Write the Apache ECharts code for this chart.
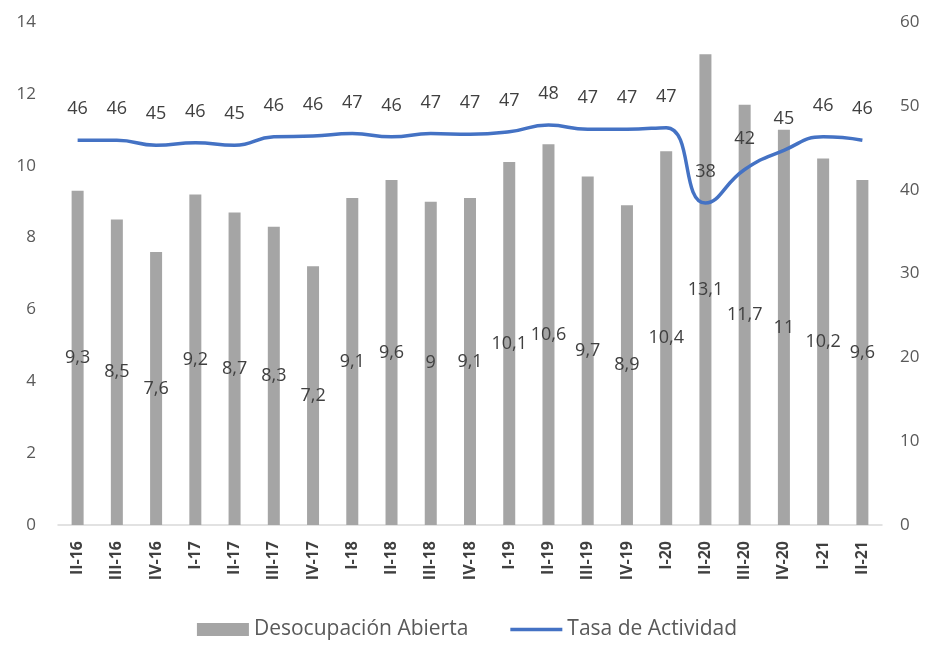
<!DOCTYPE html>
<html>
<head>
<meta charset="utf-8">
<script src="https://cdn.jsdelivr.net/npm/echarts@6/dist/echarts.min.js"></script>
<style>
  html, body { margin: 0; padding: 0; background: #fff; }
  #chart { width: 934px; height: 648px; }
</style>
</head>
<body>
<div id="chart"></div>
<script>
// trimestres
const categories = ['II-16', 'III-16', 'IV-16', 'I-17', 'II-17', 'III-17', 'IV-17', 'I-18', 'II-18', 'III-18', 'IV-18',
  'I-19', 'II-19', 'III-19', 'IV-19', 'I-20', 'II-20', 'III-20', 'IV-20', 'I-21', 'II-21'];
// Desocupación Abierta (eje izquierdo)
const desocupacion = [9.3, 8.5, 7.6, 9.2, 8.7, 8.3, 7.2, 9.1, 9.6, 9, 9.1, 10.1, 10.6, 9.7, 8.9, 10.4, 13.1, 11.7, 11, 10.2, 9.6];
// Tasa de Actividad (eje derecho)
const actividad = [45.9, 45.9, 45.3, 45.6, 45.3, 46.3, 46.4, 46.7, 46.3, 46.7, 46.6, 46.9, 47.7, 47.2, 47.2, 47.4, 38.4, 42.4, 44.7, 46.3, 45.9];
const leftTicks = [0, 14, 2];
const rightTicks = [0, 60, 10];

const font = 'Open Sans';
const chart = echarts.init(document.getElementById('chart'));

chart.setOption({
  animation: false,
  textStyle: { fontFamily: font },
  grid: { top: 22, bottom: 123, left: 58, right: 52 },
  legend: {
    bottom: 3,
    left: 'center',
    itemGap: 42,
    itemWidth: 52,
    itemHeight: 13,
    textStyle: { fontSize: 21, color: '#595959', fontFamily: font },
    data: [
      { name: 'Desocupación Abierta', icon: 'rect' },
      { name: 'Tasa de Actividad', icon: 'path://M0,0 L52,0 L52,3.5 L0,3.5 Z' }
    ]
  },
  xAxis: {
    type: 'category',
    data: categories,
    axisLine: { lineStyle: { color: '#d9d9d9', width: 1.5 } },
    axisTick: { show: false },
    axisLabel: {
      rotate: 90,
      interval: 0,
      margin: 16,
      fontSize: 16,
      fontWeight: 'bold',
      color: '#404040'
    }
  },
  yAxis: [
    {
      type: 'value',
      min: leftTicks[0],
      max: leftTicks[1],
      interval: leftTicks[2],
      splitLine: { show: false },
      axisLine: { show: false },
      axisTick: { show: false },
      axisLabel: { fontSize: 17, color: '#595959', margin: 22 }
    },
    {
      type: 'value',
      min: rightTicks[0],
      max: rightTicks[1],
      interval: rightTicks[2],
      splitLine: { show: false },
      axisLine: { show: false },
      axisTick: { show: false },
      axisLabel: { fontSize: 17, color: '#595959', margin: 18 }
    }
  ],
  series: [
    {
      name: 'Desocupación Abierta',
      type: 'bar',
      data: desocupacion,
      barWidth: 12,
      itemStyle: { color: '#a5a5a5' },
      label: {
        show: true,
        position: 'inside',
        fontSize: 18,
        color: '#404040',
        formatter: (p) => String(p.value).replace('.', ',')
      }
    },
    {
      name: 'Tasa de Actividad',
      type: 'line',
      yAxisIndex: 1,
      data: actividad,
      smooth: true,
      symbol: 'none',
      lineStyle: { color: '#4472c4', width: 3.5 },
      itemStyle: { color: '#4472c4' }
    },
    {
      // solo las etiquetas de la tasa
      name: 'etiquetas',
      type: 'line',
      yAxisIndex: 1,
      data: actividad,
      smooth: true,
      symbol: 'circle',
      symbolSize: 0.01,
      lineStyle: { opacity: 0 },
      itemStyle: { color: 'transparent' },
      silent: true,
      label: {
        show: true,
        position: 'top',
        distance: 22,
        fontSize: 18,
        color: '#404040',
        formatter: (p) => Math.round(p.value)
      }
    }
  ]
});
</script>
</body>
</html>
